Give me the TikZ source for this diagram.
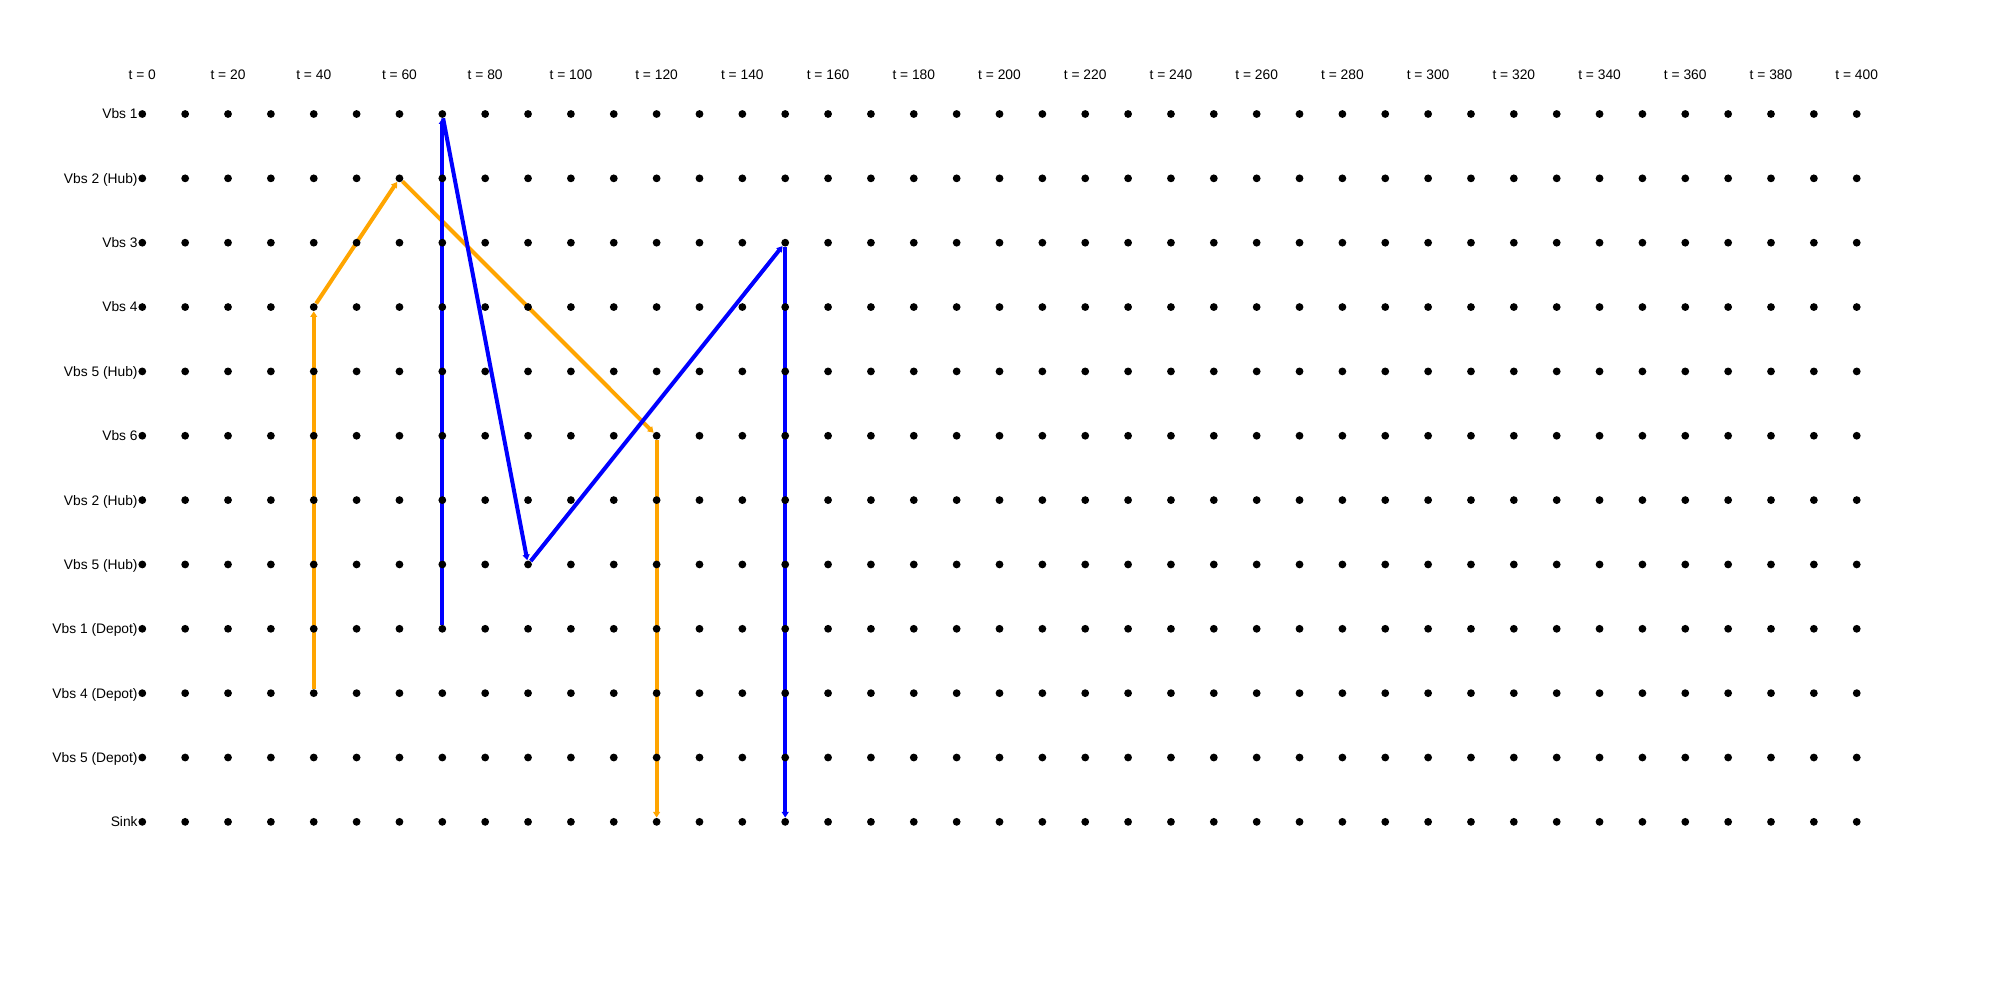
\documentclass[tikz,border=0pt]{standalone}
\usepackage{fontspec}
\setmainfont{Liberation Sans}
\usetikzlibrary{arrows.meta,backgrounds}
\definecolor{routeorange}{RGB}{255,165,0}
\definecolor{routeblue}{RGB}{0,0,255}
\begin{document}
\begin{tikzpicture}[x=0.5pt,y=-0.5pt,
  dotnode/.style={circle,fill=black,inner sep=0pt,minimum size=3.9pt},
  lbl/.style={font=\fontsize{6.9}{8}\selectfont,inner sep=0pt},
  route/.style={line width=2pt,-{Triangle[length=2.8pt,width=3.4pt]}},
  orangeroute/.style={route,draw=routeorange},
  blueroute/.style={route,draw=routeblue}]
\useasboundingbox (0,0) rectangle (2000,1000);
\foreach \r in {0,...,11}
  \foreach \c in {0,...,40}
    \node[dotnode] (d-\r-\c) at ({142.3+42.86*\c},{114+64.35*\r}) {};
\foreach \r/\name in {0/Vbs 1,1/Vbs 2 (Hub),2/Vbs 3,3/Vbs 4,4/Vbs 5 (Hub),5/Vbs 6,6/Vbs 2 (Hub),7/Vbs 5 (Hub),8/Vbs 1 (Depot),9/Vbs 4 (Depot),10/Vbs 5 (Depot),11/Sink}
  \node[lbl,anchor=base east] (rl-\r) at ([yshift=-2.47pt]d-\r-0.west) {\name};
\foreach \c in {0,2,...,40}{
  \pgfmathtruncatemacro{\tval}{\c*10}
  \node[lbl,anchor=base] (tl-\c) at ({142.3+42.86*\c},79.9) {t = \tval};
}
\begin{pgfonlayer}{background}
  \draw[orangeroute] (d-9-4) -- (d-3-4);
  \draw[orangeroute] (d-3-4) -- (d-1-6);
  \draw[orangeroute] (d-1-6) -- (d-5-12);
  \draw[orangeroute] (d-5-12) -- (d-11-12);
  \draw[blueroute] (d-8-7) -- (d-0-7);
  \draw[blueroute] (d-0-7) -- (d-7-9);
  \draw[blueroute] (d-7-9) -- (d-2-15);
  \draw[blueroute] (d-2-15) -- (d-11-15);
\end{pgfonlayer}
\end{tikzpicture}
\end{document}
